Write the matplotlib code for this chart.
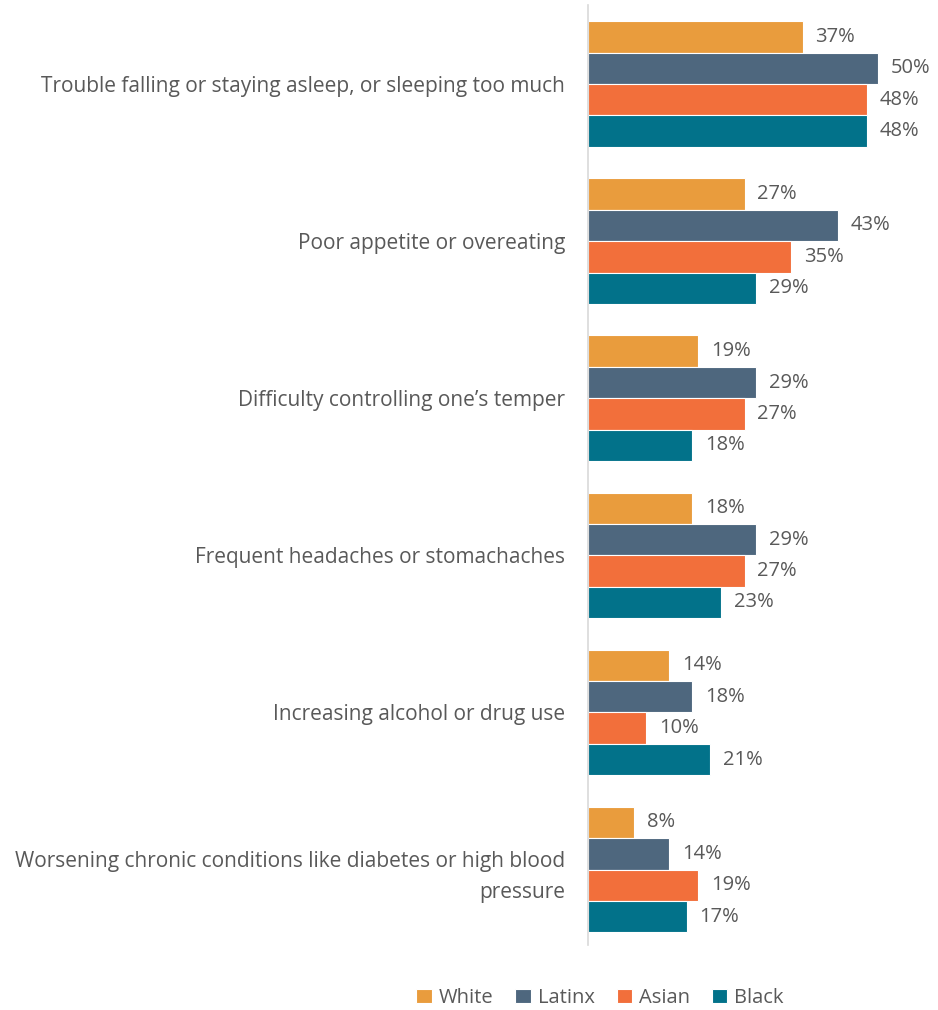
import matplotlib.pyplot as plt
import numpy as np

symptoms = [
    "Trouble falling or staying asleep, or sleeping too much",
    "Poor appetite or overeating",
    "Difficulty controlling one\u2019s temper",
    "Frequent headaches or stomachaches",
    "Increasing alcohol or drug use",
    "Worsening chronic conditions like diabetes or high blood\npressure",
]
groups = ["White", "Latinx", "Asian", "Black"]
white = [37, 27, 19, 18, 14, 8]
latinx = [50, 43, 29, 29, 18, 14]
asian = [48, 35, 27, 27, 10, 19]
black = [48, 29, 18, 23, 21, 17]

colors = ["#E99C3D", "#4E677E", "#F26F3B", "#02728A"]
text_grey = "#595959"

plt.rcParams['font.family'] = ['Open Sans', 'DejaVu Sans']

fig = plt.figure(figsize=(9.38, 10.1), dpi=100)
ax = fig.add_axes([588 / 938, 1 - 945 / 1010, 350 / 938, 940 / 1010])

y = np.arange(len(symptoms))
h = 0.2
series = [white, latinx, asian, black]
for k, (name, vals) in enumerate(zip(groups, series)):
    pos = y - 0.3 + k * h
    bars = ax.barh(pos, vals, height=h, color=colors[k], label=name,
                   edgecolor="white", linewidth=0.8)
    for b, v in zip(bars, vals):
        ax.text(b.get_width() + 2.2, b.get_y() + h / 2, f"{v}%",
                va="center", ha="left", fontsize=14.5, color=text_grey)

ax.set_xlim(0, 60.3)
ax.set_ylim(5.48, -0.503)
ax.set_yticks(y)
ax.set_yticklabels(symptoms, fontsize=15, color=text_grey, linespacing=1.6)
ax.tick_params(axis="y", length=0, pad=16.5)
ax.set_xticks([])
for s in ["top", "right", "bottom"]:
    ax.spines[s].set_visible(False)
ax.spines["left"].set_color("#D9D9D9")
ax.spines["left"].set_linewidth(1.2)

fig.legend(loc="center", bbox_to_anchor=(600 / 938, 1 - 998 / 1010), ncol=4,
           frameon=False, fontsize=14.5, handlelength=0.75, handleheight=0.75,
           handletextpad=0.35, columnspacing=1.1, labelcolor=text_grey)

fig.savefig("out.png", dpi=100)
